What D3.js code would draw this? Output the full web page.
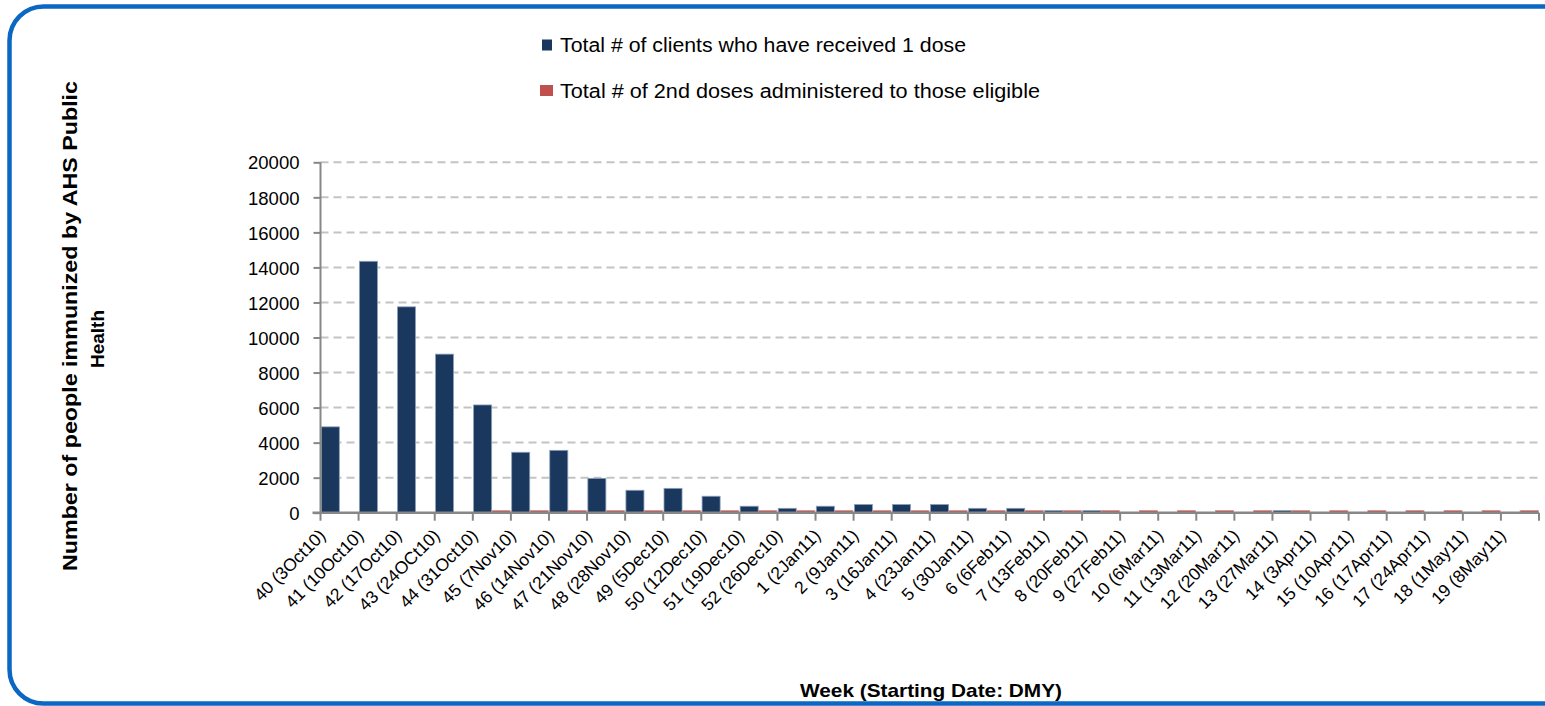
<!DOCTYPE html>
<html>
<head>
<meta charset="utf-8">
<script src="https://cdn.jsdelivr.net/npm/d3@7"></script>
<style>
  html, body { margin: 0; padding: 0; background: #ffffff; }
  svg { display: block; }
  text { font-family: "Liberation Sans", Arial, sans-serif; fill: #000; }
</style>
</head>
<body>
<svg id="chart" width="1545" height="706"></svg>
<script>
// Week labels (week number and starting date, day-month-year)
const weeks = [
  "40 (3Oct10)", "41 (10Oct10)", "42 (17Oct10)", "43 (24OCt10)", "44 (31Oct10)",
  "45 (7Nov10)", "46 (14Nov10)", "47 (21Nov10)", "48 (28Nov10)", "49 (5Dec10)",
  "50 (12Dec10)", "51 (19Dec10)", "52 (26Dec10)", "1 (2Jan11)", "2 (9Jan11)",
  "3 (16Jan11)", "4 (23Jan11)", "5 (30Jan11)", "6 (6Feb11)", "7 (13Feb11)",
  "8 (20Feb11)", "9 (27Feb11)", "10 (6Mar11)", "11 (13Mar11)", "12 (20Mar11)",
  "13 (27Mar11)", "14 (3Apr11)", "15 (10Apr11)", "16 (17Apr11)", "17 (24Apr11)",
  "18 (1May11)", "19 (8May11)"
];

// Total # of clients who have received 1 dose
const firstDose = [
  4900, 14350, 11750, 9050, 6150,
  3450, 3560, 1960, 1280, 1390,
  940, 370, 250, 370, 470,
  470, 470, 250, 250, 120,
  120, 0, 0, 0, 0,
  120, 0, 0, 0, 0,
  0, 0
];

// Total # of 2nd doses administered to those eligible
const secondDose = [
  0, 0, 0, 0, 130,
  130, 130, 130, 130, 130,
  130, 130, 130, 130, 130,
  130, 130, 130, 130, 130,
  130, 130, 130, 130, 130,
  130, 130, 130, 130, 130,
  130, 130
];

const seriesNames = [
  "Total # of clients who have received 1 dose",
  "Total # of 2nd doses administered to those eligible"
];
const seriesColors = ["#1a375e", "#c0504d"];
const seriesOutline = ["#8da0bb", "#d99694"];

const yTicks = [0, 2000, 4000, 6000, 8000, 10000, 12000, 14000, 16000, 18000, 20000];

const svg = d3.select("#chart");

// Rounded frame
svg.append("rect")
  .attr("x", 9.5).attr("y", 6.5)
  .attr("width", 1600).attr("height", 697)
  .attr("rx", 34).attr("ry", 34)
  .attr("fill", "#fff")
  .attr("stroke", "#0a67c2")
  .attr("stroke-width", 4.5);

const plot = { left: 320.5, right: 1539, top: 162.3, bottom: 512.7 };

const x = d3.scaleBand().domain(weeks).range([plot.left, plot.right]).padding(0);
const xs = d3.scaleBand().domain([0, 1]).range([0, x.bandwidth()]).padding(0);
const y = d3.scaleLinear().domain([0, 20000]).range([plot.bottom, plot.top]);

// Dashed gridlines
svg.append("g")
  .selectAll("line")
  .data(yTicks.filter(d => d > 0))
  .join("line")
  .attr("x1", plot.left).attr("x2", plot.right)
  .attr("y1", d => y(d)).attr("y2", d => y(d))
  .attr("stroke", "#c3c3c3")
  .attr("stroke-width", 2)
  .attr("stroke-dasharray", "8,5");

// Bars
const rows = weeks.map((w, i) => ({ week: w, values: [firstDose[i], secondDose[i]] }));
const groups = svg.append("g")
  .selectAll("g")
  .data(rows)
  .join("g")
  .attr("transform", d => `translate(${x(d.week)},0)`);

groups.selectAll("rect")
  .data(d => d.values.map((v, k) => ({ k, v })).filter(e => e.v > 0))
  .join("rect")
  .attr("x", e => xs(e.k) + (e.k === 0 ? 0.8 : 0.2))
  .attr("width", xs.bandwidth() - 1)
  .attr("y", e => y(e.v))
  .attr("height", e => plot.bottom - y(e.v))
  .attr("fill", e => seriesColors[e.k])
  .attr("stroke", e => seriesOutline[e.k])
  .attr("stroke-width", 0.8);

// Y axis
const yAxis = d3.axisLeft(y).tickValues(yTicks).tickSize(7).tickPadding(14).tickFormat(d3.format("d"));
const gy = svg.append("g").attr("transform", `translate(${plot.left},0)`).call(yAxis);
gy.select(".domain").attr("stroke", "#878787").attr("stroke-width", 2)
  .attr("d", `M0,${plot.top}V${plot.bottom}`);
gy.selectAll(".tick line").attr("stroke", "#878787").attr("stroke-width", 2);
gy.selectAll(".tick text").style("font-size", "18.5px").attr("dy", "0.36em");

// X axis
const xAxis = d3.axisBottom(x).tickSize(0).tickFormat("");
const gx = svg.append("g").attr("transform", `translate(0,${plot.bottom})`).call(xAxis);
gx.select(".domain").attr("stroke", "#878787").attr("stroke-width", 2.5)
  .attr("d", `M${plot.left - 8},0H${plot.right}`);

// Category boundary ticks
const bounds = weeks.map(w => x(w)).concat([plot.right]);
gx.append("g").selectAll("line")
  .data(bounds)
  .join("line")
  .attr("x1", d => d).attr("x2", d => d)
  .attr("y1", 0).attr("y2", 8)
  .attr("stroke", "#878787").attr("stroke-width", 2);

// Rotated week labels
svg.append("g")
  .selectAll("text")
  .data(weeks)
  .join("text")
  .attr("transform", d => `translate(${x(d) + x.bandwidth() / 2 - 13},${plot.bottom + 24}) rotate(-45)`)
  .attr("text-anchor", "end")
  .style("font-size", "17.5px")
  .text(d => d);

// Axis titles
svg.append("text")
  .attr("x", 931).attr("y", 697)
  .attr("text-anchor", "middle")
  .attr("textLength", 262).attr("lengthAdjust", "spacingAndGlyphs")
  .style("font-size", "19px").style("font-weight", "bold")
  .text("Week (Starting Date: DMY)");

const yTitle = svg.append("g");
yTitle.append("text")
  .attr("transform", "translate(77,326) rotate(-90)")
  .attr("text-anchor", "middle")
  .attr("textLength", 490).attr("lengthAdjust", "spacingAndGlyphs")
  .style("font-size", "20px").style("font-weight", "bold")
  .text("Number of people immunized by AHS Public");
yTitle.append("text")
  .attr("transform", "translate(104,339) rotate(-90)")
  .attr("text-anchor", "middle")
  .style("font-size", "19px").style("font-weight", "bold")
  .text("Health");

// Legend
const legendRows = [
  { y: 52, sq: [542, 39.5, 10, 11], len: 406 },
  { y: 98, sq: [540, 85, 13, 11], len: 480 }
];
const legend = svg.append("g");
legendRows.forEach((r, i) => {
  legend.append("rect")
    .attr("x", r.sq[0]).attr("y", r.sq[1]).attr("width", r.sq[2]).attr("height", r.sq[3])
    .attr("fill", seriesColors[i]);
  legend.append("text")
    .attr("x", 560).attr("y", r.y)
    .attr("textLength", r.len).attr("lengthAdjust", "spacingAndGlyphs")
    .style("font-size", "19.5px")
    .text(seriesNames[i]);
});
</script>
</body>
</html>
